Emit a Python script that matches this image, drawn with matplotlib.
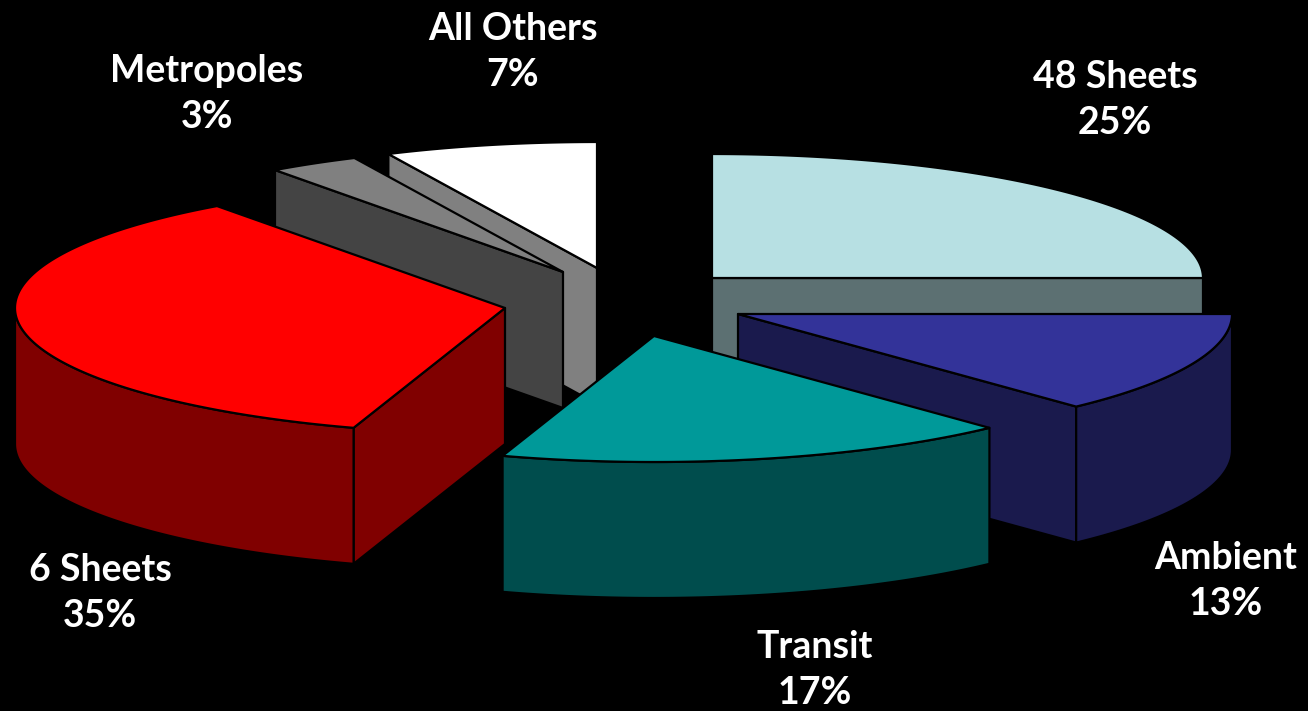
import numpy as np
import matplotlib.pyplot as plt

# Data
labels = ['48 Sheets', 'Ambient', 'Transit', '6 Sheets', 'Metropoles', 'All Others']
shares = [25, 13, 17, 35, 3, 7]

# Look of each slice
top_colors = ['#B7E0E3', '#333399', '#009999', '#FF0000', '#808080', '#FFFFFF']
side_colors = ['#5C7072', '#1A1A4D', '#004D4D', '#800000', '#444444', '#808080']
centers = [(712, 278), (738, 314), (654, 336), (505, 308), (563, 272), (597, 268)]
radii_x = [491, 494, 490, 490, 490, 490]
radii_y = [124, 127, 126, 126, 126, 126]
label_pos = [(1115, 100), (1226, 581), (815, 670), (100, 593), (207, 94), (513, 52)]
draw_order = [5, 4, 3, 0, 1, 2]

DEPTH = 136

plt.rcParams['font.family'] = ['Lato', 'DejaVu Sans']

fig = plt.figure(figsize=(13.08, 7.11), dpi=100, facecolor='black')
ax = fig.add_axes([0, 0, 1, 1])
ax.set_xlim(0, 1308)
ax.set_ylim(711, 0)
ax.axis('off')

# Slices run clockwise from 12 o'clock
ends = 90 - 3.6 * np.cumsum(shares)
starts = np.concatenate([[90], ends[:-1]])


def arc(i, a1, a2):
    t = np.radians(np.linspace(a1, a2, 120))
    return centers[i][0] + radii_x[i] * np.cos(t), centers[i][1] - radii_y[i] * np.sin(t)


def side(xs, ys, color):
    # extrude an outline downwards by the pie depth
    px = np.concatenate([xs, xs[::-1]])
    py = np.concatenate([ys, ys[::-1] + DEPTH])
    ax.fill(px, py, facecolor=color, edgecolor='black', linewidth=1.6, joinstyle='round')


for i in draw_order:
    c, a1, a2 = centers[i], starts[i], ends[i]

    # cut faces that look towards the viewer
    if np.cos(np.radians(a1)) < -1e-6:
        x, y = arc(i, a1, a1)
        side(np.array([c[0], x[0]]), np.array([c[1], y[0]]), side_colors[i])
    if np.cos(np.radians(a2)) > 1e-6:
        x, y = arc(i, a2, a2)
        side(np.array([c[0], x[0]]), np.array([c[1], y[0]]), side_colors[i])

    # outer rim, front half only
    lo = max(a2, -180)
    hi = min(a1, 0)
    if hi > lo:
        x, y = arc(i, hi, lo)
        side(x, y, side_colors[i])

    # top face
    x, y = arc(i, a1, a2)
    ax.fill(np.r_[c[0], x], np.r_[c[1], y], facecolor=top_colors[i],
            edgecolor='black', linewidth=1.6, joinstyle='round')

for name, share, pos in zip(labels, shares, label_pos):
    ax.text(pos[0], pos[1], f'{name}\n{share}%', color='white', fontsize=27,
            fontweight='bold', ha='center', va='center', linespacing=1.42)

fig.savefig('out.png', dpi=100, facecolor='black')
